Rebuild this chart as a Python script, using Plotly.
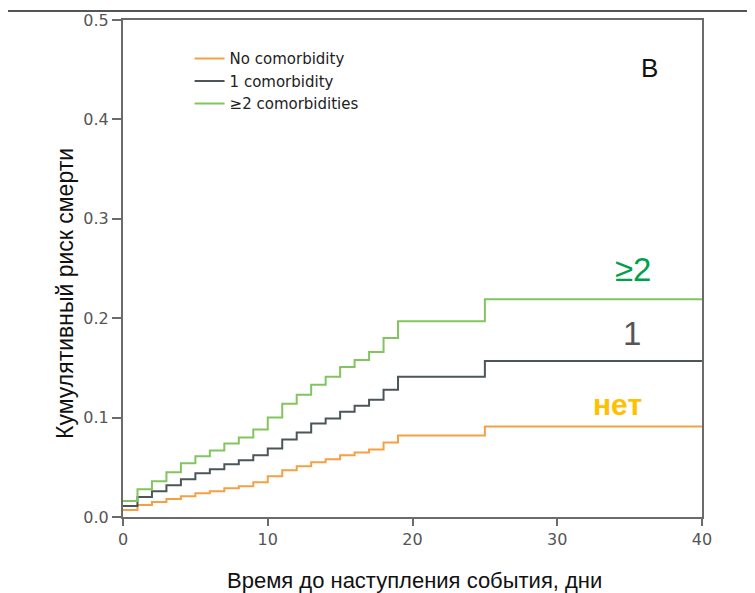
import plotly.graph_objects as go

# Time points (days) at which steps occur
times = [0, 1, 2, 3, 4, 5, 6, 7, 8, 9, 10, 11, 12, 13, 14, 15, 16, 17, 18, 19, 25, 40]

risk_none = [0.007, 0.012, 0.015, 0.018, 0.021, 0.024, 0.026, 0.029, 0.031, 0.035,
             0.041, 0.047, 0.051, 0.055, 0.058, 0.062, 0.065, 0.068, 0.075, 0.082,
             0.091, 0.091]
risk_one = [0.011, 0.020, 0.026, 0.032, 0.038, 0.044, 0.048, 0.053, 0.057, 0.062,
            0.069, 0.078, 0.085, 0.094, 0.099, 0.106, 0.112, 0.118, 0.128, 0.141,
            0.157, 0.157]
risk_two = [0.016, 0.028, 0.036, 0.045, 0.054, 0.061, 0.067, 0.074, 0.080, 0.088,
            0.100, 0.114, 0.123, 0.133, 0.141, 0.151, 0.158, 0.166, 0.180, 0.197,
            0.219, 0.219]

series_names = ["No comorbidity", "1 comorbidity", "≥2 comorbidities"]
series_colors = ["#F5A045", "#4B5659", "#82C55E"]

x_ticks = [0, 10, 20, 30, 40]
y_ticks = [0.0, 0.1, 0.2, 0.3, 0.4, 0.5]

fig = go.Figure()
for name, vals, col in zip(series_names, [risk_none, risk_one, risk_two], series_colors):
    fig.add_trace(go.Scatter(x=times, y=vals, mode="lines", name=name,
                             line=dict(shape="hv", color=col, width=2)))

tick_font = dict(family="DejaVu Sans, Arial, sans-serif", size=16, color="#555555")
axis_common = dict(showline=True, linecolor="#6b6b6b", linewidth=2, mirror=True,
                   ticks="outside", tickwidth=2, tickcolor="#6b6b6b", automargin=False,
                   showgrid=False, zeroline=False, tickfont=tick_font)

fig.update_xaxes(range=[0, 40], tickvals=x_ticks, ticktext=[str(v) for v in x_ticks],
                 ticklen=7, **axis_common)
fig.update_yaxes(range=[0, 0.5], tickvals=y_ticks, ticktext=[f"{v:.1f}" for v in y_ticks],
                 ticklen=9, **axis_common)

fig.update_layout(
    width=747, height=585,
    margin=dict(l=115, r=53, t=12, b=76),
    paper_bgcolor="white", plot_bgcolor="white",
    showlegend=True,
    legend=dict(x=0.115, y=0.955, xanchor="left", yanchor="top",
                bgcolor="rgba(0,0,0,0)", borderwidth=0, tracegroupgap=0,
                font=dict(family="DejaVu Sans, Arial, sans-serif", size=15, color="#222222")),
    font=dict(family="Liberation Sans, Arial, sans-serif"),
)

# Top separator line
fig.add_shape(type="line", xref="paper", yref="paper", x0=-0.2, x1=1.1,
              y0=1.0 + 9/497, y1=1.0 + 9/497, line=dict(color="#555555", width=2))

ann_font = "Liberation Sans, Arial, sans-serif"
fig.add_annotation(x=0.91, y=0.903, xref="paper", yref="paper", text="B", showarrow=False,
                   xanchor="center", yanchor="middle",
                   font=dict(family=ann_font, size=26, color="#111111"))
fig.add_annotation(x=35.2, y=0.2485, text="≥2", showarrow=False,
                   xanchor="center", yanchor="middle",
                   font=dict(family=ann_font, size=33, color="#00A14B"))
fig.add_annotation(x=35.16, y=0.185, text="1", showarrow=False,
                   xanchor="center", yanchor="middle",
                   font=dict(family=ann_font, size=33, color="#555555"))
fig.add_annotation(x=34.14, y=0.1127, text="<b>нет</b>", showarrow=False,
                   xanchor="center", yanchor="middle",
                   font=dict(family=ann_font, size=30, color="#FFC000"))

# Axis titles
fig.add_annotation(x=-0.1, y=0.449, xref="paper", yref="paper", text="Кумулятивный риск смерти",
                   textangle=-90, showarrow=False, xanchor="center", yanchor="middle",
                   font=dict(family=ann_font, size=23, color="#111111"))
fig.add_annotation(x=0.504, y=0, xref="paper", yref="paper", yshift=-63,
                   text="Время до наступления события, дни", showarrow=False,
                   xanchor="center", yanchor="middle",
                   font=dict(family=ann_font, size=22, color="#111111"))

fig.write_html("out.html")
